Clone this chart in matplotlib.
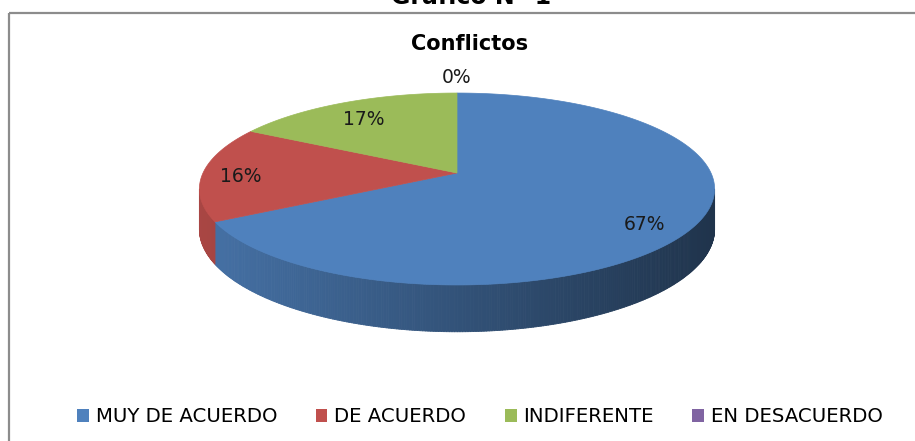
import numpy as np
import matplotlib
matplotlib.use("Agg")
import matplotlib.pyplot as plt
from matplotlib.patches import Polygon, Rectangle, Patch
from matplotlib.collections import PolyCollection
from matplotlib.colors import to_rgb

# ---- data ----
categories = ["MUY DE ACUERDO", "DE ACUERDO", "INDIFERENTE", "EN DESACUERDO"]
values = [67, 16, 17, 0]
pct_labels = ["67%", "16%", "17%", "0%"]
colors = ["#4f81bd", "#c0504d", "#9bbb59", "#8064a2"]
chart_title = "Conflictos"
doc_title = "Gráfico N° 1"

# ---- layout (pixel space) ----
W, H = 915, 441
cx, cy = 457, 173          # projected pie centre
a, b = 254, 93.3           # radii of the projected disc
k = 0.1667                 # perspective strength
h0 = 39                    # thickness of the disc
label_r = [0.80, 0.85, 0.80, 1.23]
label_dy = [11, 4, 4, 0]

fig = plt.figure(figsize=(W / 100, H / 100), dpi=100)
ax = fig.add_axes([0, 0, 1, 1])
ax.set_xlim(0, W)
ax.set_ylim(H, 0)
ax.axis("off")


def proj(theta_deg, r=1.0):
    t = np.radians(theta_deg)
    s = 1.0 / (1.0 + k * r * np.sin(t))
    return cx + a * r * np.cos(t) * s, cy - b * r * np.sin(t) * s


def thick(theta_deg):
    t = np.radians(theta_deg)
    return h0 / (1.0 + k * np.sin(t))


# slice angles: start at 12 o'clock, clockwise
total = float(sum(values))
spans = [360.0 * v / total for v in values]
starts, ends = [], []
cur = 90.0
for sp in spans:
    starts.append(cur)
    ends.append(cur - sp)
    cur -= sp

# visible side range (silhouette points)
asin_k = np.degrees(np.arcsin(k))
vis_lo, vis_hi = 180 + asin_k, 360 - asin_k
x_left, _ = proj(vis_lo)
x_right, _ = proj(vis_hi)

# ---- side walls with horizontal shading ----
for i, (hi, lo) in enumerate(zip(starts, ends)):
    if hi - lo <= 0:
        continue
    base = np.array(to_rgb(colors[i]))
    for m in (-1, 0, 1):
        l, h = lo + 360 * m, hi + 360 * m
        l2, h2 = max(l, vis_lo), min(h, vis_hi)
        if h2 <= l2:
            continue
        th = np.linspace(l2, h2, max(int((h2 - l2) * 2), 4))
        polys, cols = [], []
        for t0, t1 in zip(th[:-1], th[1:]):
            x0, y0 = proj(t0)
            x1, y1 = proj(t1)
            polys.append([(x0, y0), (x1, y1), (x1, y1 + thick(t1)), (x0, y0 + thick(t0))])
            xm = 0.5 * (x0 + x1)
            f = 0.88 - 0.48 * (xm - x_left) / (x_right - x_left)
            cols.append(tuple(np.clip(base * f, 0, 1)))
        pc = PolyCollection(polys, facecolors=cols, edgecolors=cols, linewidths=0.6)
        ax.add_collection(pc)

# ---- top face ----
for i, (hi, lo) in enumerate(zip(starts, ends)):
    if hi - lo <= 0:
        continue
    th = np.linspace(hi, lo, max(int((hi - lo) * 2), 4))
    pts = [(cx, cy)] + [proj(t) for t in th]
    ax.add_patch(Polygon(pts, closed=True, facecolor=colors[i],
                         edgecolor=colors[i], linewidth=0.5))

# ---- data labels ----
for i, lab in enumerate(pct_labels):
    mid = 0.5 * (starts[i] + ends[i])
    x, y = proj(mid, label_r[i])
    ax.text(x, y + label_dy[i], lab, ha="center", va="center",
            fontsize=13.5, color="#1a1a1a", family="DejaVu Sans")

# ---- titles ----
ax.text(470, 44, chart_title, ha="center", va="center", fontsize=15,
        fontweight="bold", color="black", family="DejaVu Sans")
ax.text(471, 4, doc_title, ha="center", va="baseline", fontsize=17,
        fontweight="bold", color="black", family="DejaVu Sans")

# ---- chart frame ----
ax.add_patch(Rectangle((9, 13), 2000, 2000, fill=False, edgecolor="#8c8c8c",
                       linewidth=1.6))

# ---- legend ----
handles = [Patch(facecolor=c, edgecolor="none") for c in colors]
fig.legend(handles, categories, loc="center", bbox_to_anchor=(480 / W, 1 - 417 / H),
           ncol=4, frameon=False, handlelength=0.6, handleheight=0.6,
           handletextpad=0.35, columnspacing=1.95,
           prop={"family": "DejaVu Sans", "size": 14.2})

fig.savefig("out.png", dpi=100)
